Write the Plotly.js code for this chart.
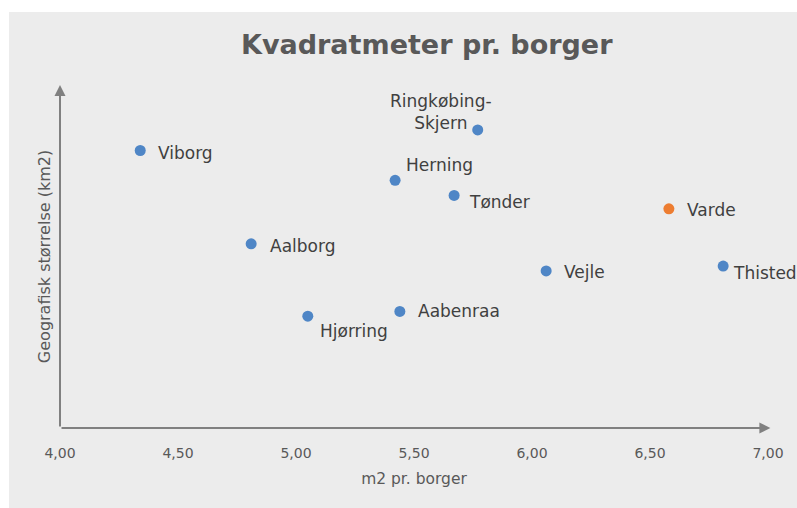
<!DOCTYPE html>
<html>
<head>
<meta charset="utf-8">
<script src="https://cdn.plot.ly/plotly-3.0.1.min.js"></script>
<style>
  html, body { margin: 0; padding: 0; background: #ffffff; }
  #chart { position: absolute; left: 9px; top: 12px; width: 788px; height: 496px; }
</style>
</head>
<body>
<div id="chart"></div>
<script>
// Data
const kommuner = ["Viborg", "Ringkøbing-<br>Skjern", "Herning", "Tønder", "Varde", "Aalborg", "Vejle", "Thisted", "Aabenraa", "Hjørring"];
const m2PrBorger = [4.34, 5.77, 5.42, 5.67, 6.58, 4.81, 6.06, 6.81, 5.44, 5.05];
const arealKm2 = [1409, 1469, 1322, 1278, 1239, 1137, 1058, 1072, 940, 926];
const highlighted = "Varde";
const xTicks = [4.0, 4.5, 5.0, 5.5, 6.0, 6.5, 7.0];
const xTickText = ["4,00", "4,50", "5,00", "5,50", "6,00", "6,50", "7,00"];

// Label placement (pixel offsets from the marker)
const labelPos = [
  {xs: 16, ys: -2, xa: "left"},
  {xs: -37, ys: 18, xa: "center"},
  {xs: 9, ys: 15, xa: "left"},
  {xs: 13, ys: -7, xa: "left"},
  {xs: 16, ys: -1, xa: "left"},
  {xs: 17, ys: -2, xa: "left"},
  {xs: 16, ys: -1, xa: "left"},
  {xs: 8, ys: -7, xa: "left"},
  {xs: 16, ys: 0, xa: "left"},
  {xs: 10, ys: -15, xa: "left"}
];

const BLUE = "#4F86C6";
const ORANGE = "#ED7D31";
const colors = kommuner.map(k => k === highlighted ? ORANGE : BLUE);
const FONT = "DejaVu Sans, Verdana, sans-serif";

const trace = {
  type: "scatter",
  mode: "markers",
  x: m2PrBorger,
  y: arealKm2,
  text: kommuner,
  marker: { size: 11, color: colors },
  cliponaxis: false,
  hoverinfo: "text+x+y"
};

const labelAnns = kommuner.map((k, i) => ({
  x: m2PrBorger[i], y: arealKm2[i], xref: "x", yref: "y",
  text: k, showarrow: false,
  xanchor: labelPos[i].xa, yanchor: "middle",
  xshift: labelPos[i].xs, yshift: labelPos[i].ys,
  align: "center",
  font: { family: FONT, size: 17, color: "#404040" }
}));

const axisColor = "#808080";
const axisArrows = [
  { x: 7.01, y: 600, ax: 4.0, ay: 600, xref: "x", yref: "y", axref: "x", ayref: "y",
    showarrow: true, arrowhead: 2, arrowsize: 1.1, arrowwidth: 2, arrowcolor: axisColor, text: "" },
  { x: 4.0, y: 1600, ax: 4.0, ay: 600, xref: "x", yref: "y", axref: "x", ayref: "y",
    showarrow: true, arrowhead: 2, arrowsize: 1.1, arrowwidth: 2, arrowcolor: axisColor, text: "" }
];

const layout = {
  width: 788, height: 496,
  paper_bgcolor: "#ececec", plot_bgcolor: "#ececec",
  margin: { l: 51, r: 29, t: 73, b: 80 },
  separators: ",.",
  showlegend: false,
  title: {
    text: "<b>Kvadratmeter pr. borger</b>",
    x: 0.518, xref: "paper", xanchor: "center",
    y: 0.935, yref: "container", yanchor: "middle",
    font: { family: FONT, size: 27, color: "#595959" }
  },
  xaxis: {
    range: [4, 7],
    tickvals: xTicks, ticktext: xTickText,
    showgrid: false, zeroline: false, showline: false,
    ticks: "outside", ticklen: 12, tickcolor: "rgba(0,0,0,0)",
    tickfont: { family: FONT, size: 14, color: "#595959" },
    title: { text: "m2 pr. borger", standoff: 13,
      font: { family: FONT, size: 15.5, color: "#595959" } },
    fixedrange: true
  },
  yaxis: {
    range: [600, 1600],
    showticklabels: false, showgrid: false, zeroline: false, showline: false, ticks: "",
    title: { text: "Geografisk størrelse (km2)", standoff: 4,
      font: { family: FONT, size: 16, color: "#595959" } },
    fixedrange: true
  },
  annotations: axisArrows.concat(labelAnns)
};

Plotly.newPlot("chart", [trace], layout, { displayModeBar: false, staticPlot: true });
</script>
</body>
</html>
